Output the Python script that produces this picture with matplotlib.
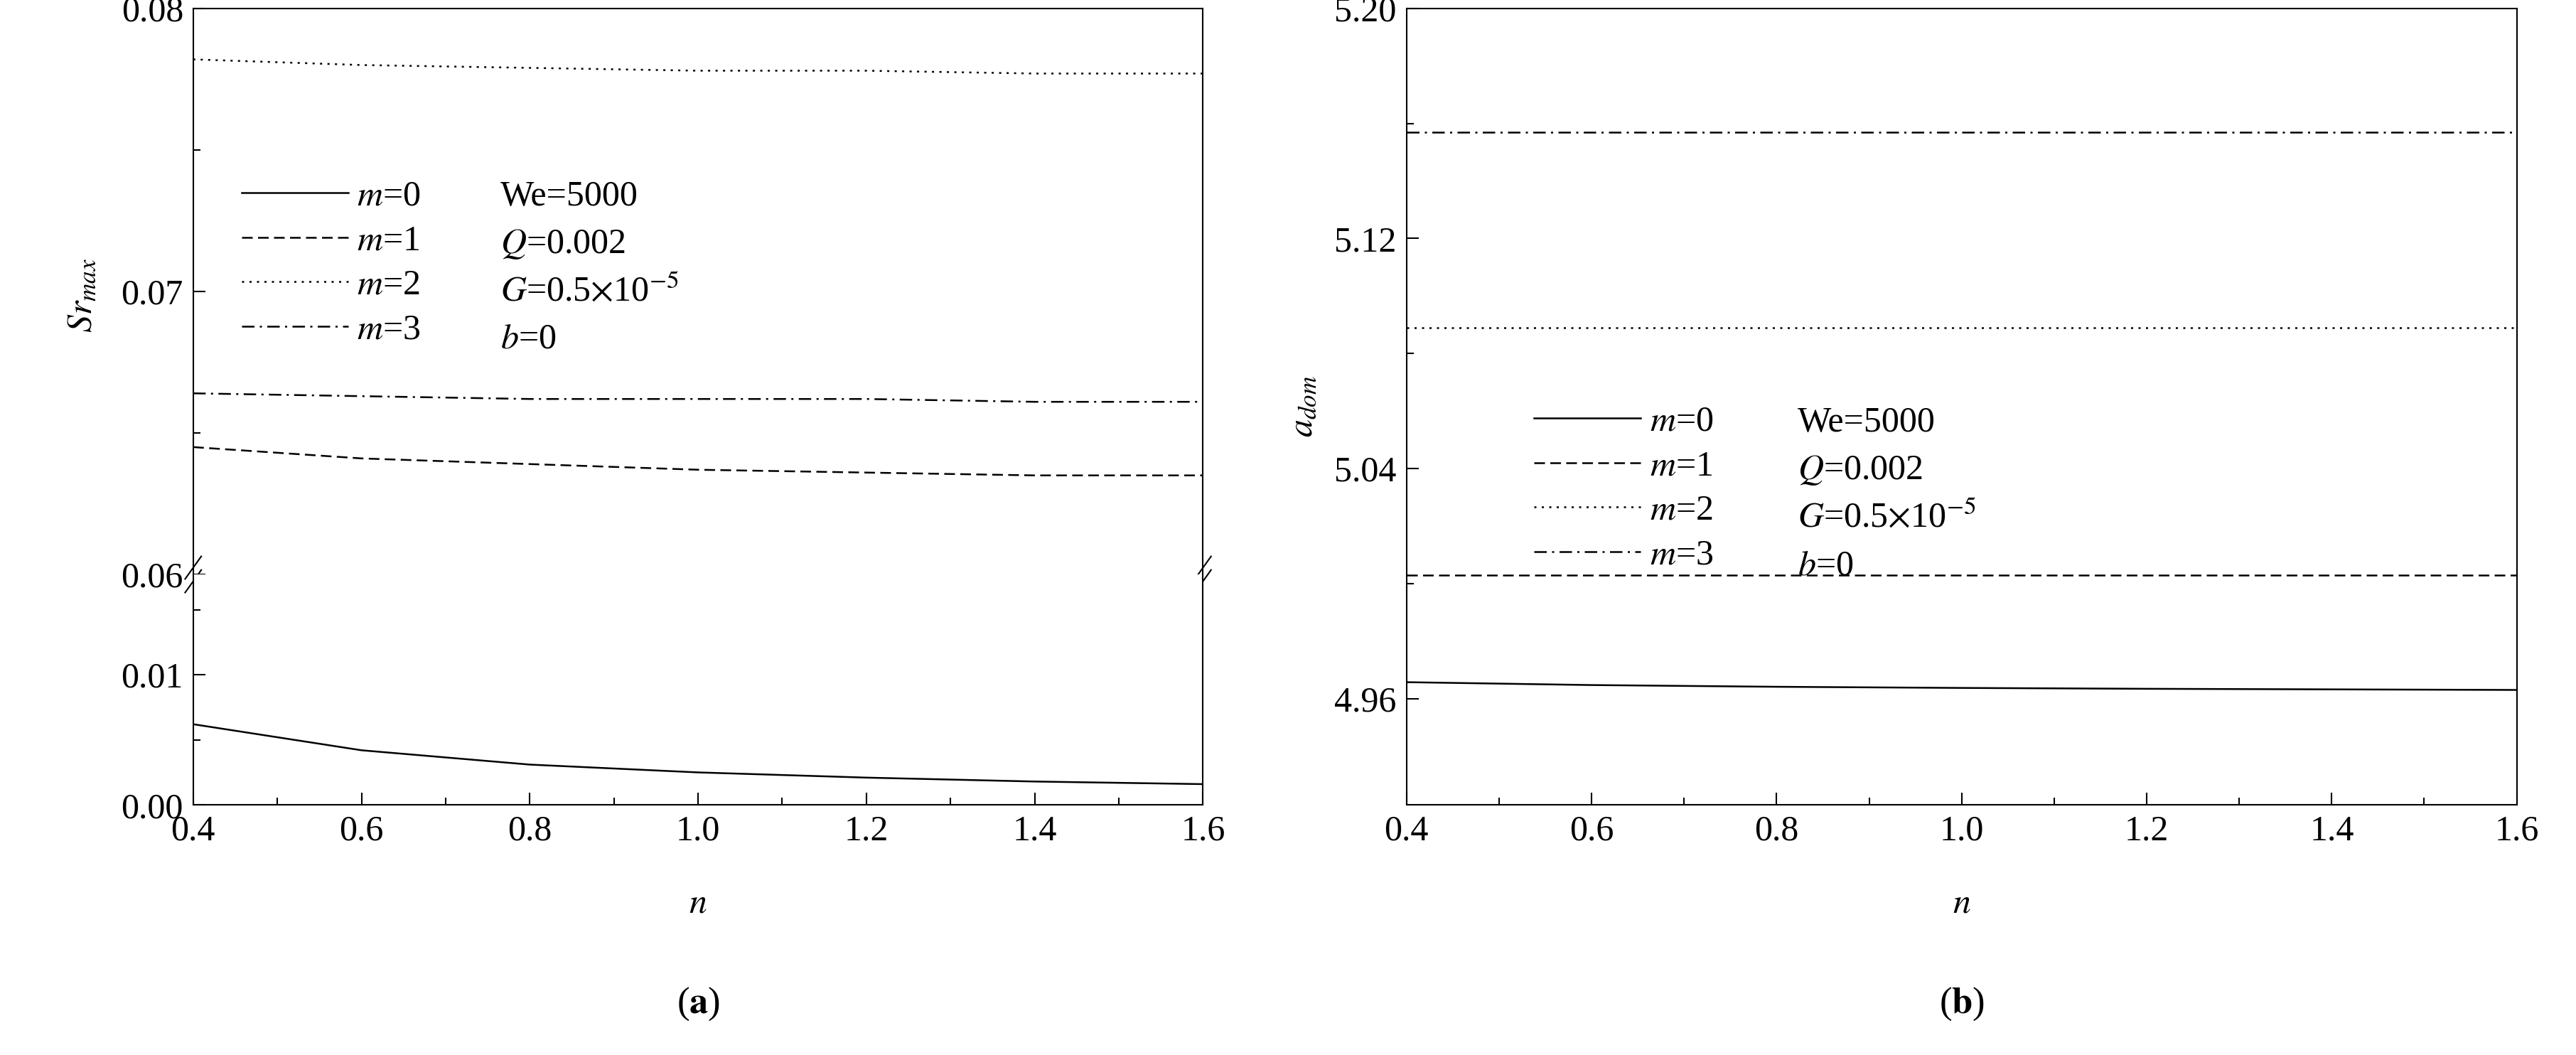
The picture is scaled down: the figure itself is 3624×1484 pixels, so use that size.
import matplotlib
matplotlib.use("Agg")
import matplotlib.pyplot as plt
from matplotlib.ticker import MultipleLocator, FormatStrFormatter

plt.rcParams['font.family'] = ['Liberation Serif', 'DejaVu Serif']
plt.rcParams['mathtext.fontset'] = 'stix'
FS = 36

n = [0.4, 0.6, 0.8, 1.0, 1.2, 1.4, 1.6]
sr_m0 = [0.0062, 0.0042, 0.0031, 0.0025, 0.0021, 0.0018, 0.0016]
sr_m1 = [0.0645, 0.0641, 0.0639, 0.0637, 0.0636, 0.0635, 0.0635]
sr_m2 = [0.0782, 0.0780, 0.0779, 0.0778, 0.0778, 0.0777, 0.0777]
sr_m3 = [0.0664, 0.0663, 0.0662, 0.0662, 0.0662, 0.0661, 0.0661]
a_m0 = [4.9657, 4.9647, 4.9641, 4.9637, 4.9634, 4.9632, 4.9630]
a_m1 = [5.003, 5.003, 5.003, 5.003, 5.003, 5.003, 5.003]
a_m2 = [5.089, 5.089, 5.089, 5.089, 5.089, 5.089, 5.089]
a_m3 = [5.157, 5.157, 5.157, 5.157, 5.157, 5.157, 5.157]
labels = ['$m$=0', '$m$=1', '$m$=2', '$m$=3']
params = ['We=5000', '$Q$=0.002', r'$G$=0.5$\times$10$^{-5}$', '$b$=0']
styles = ['-', (0, (6, 3)), (0, (1.2, 3)), (0, (7, 3, 1.2, 3))]
LW = 1.8

fig = plt.figure(figsize=(36.24, 14.84), dpi=100)
L, R = 0.075, 0.467
axU = fig.add_axes([L, 0.4555, R - L, 0.992 - 0.4555])
axD = fig.add_axes([L, 0.237, R - L, 0.4555 - 0.237])
axB = fig.add_axes([0.546, 0.237, 0.977 - 0.546, 0.992 - 0.237])

def style(ax):
    for sp in ax.spines.values():
        sp.set_linewidth(1.5)
    ax.tick_params(which='both', direction='in', top=False, right=False, labelsize=FS, width=1.5)
    ax.tick_params(which='major', length=12, pad=10)
    ax.tick_params(which='minor', length=7)
    ax.set_xlim(0.4, 1.6)
    ax.xaxis.set_major_locator(MultipleLocator(0.2))
    ax.xaxis.set_minor_locator(MultipleLocator(0.1))
    ax.xaxis.set_major_formatter(FormatStrFormatter('%.1f'))

for ax in (axU, axD, axB):
    style(ax)

sets_l = [sr_m0, sr_m1, sr_m2, sr_m3]
for d, ls, lb in zip(sets_l, styles, labels):
    axU.plot(n, d, color='black', ls=ls, lw=LW, label=lb)
    axD.plot(n, d, color='black', ls=ls, lw=LW)
axU.set_ylim(0.06, 0.08)
axU.yaxis.set_major_locator(MultipleLocator(0.01))
axU.yaxis.set_minor_locator(MultipleLocator(0.005))
axU.yaxis.set_major_formatter(FormatStrFormatter('%.2f'))
axU.tick_params(axis='x', which='both', bottom=False, labelbottom=False)
axU.spines['bottom'].set_visible(False)
axD.spines['top'].set_visible(False)
axD.set_ylim(0, 0.0177)
axD.yaxis.set_major_locator(MultipleLocator(0.01))
axD.yaxis.set_minor_locator(MultipleLocator(0.005))
axD.yaxis.set_major_formatter(FormatStrFormatter('%.2f'))
axD.set_xlabel('$n$', fontsize=FS, labelpad=40)
fig.text(0.032, 0.72, '$Sr_{max}$', fontsize=FS, rotation=90, va='center', ha='center')

# break marks
for xx in (0, 1):
    for dy in (-0.012, 0.012):
        axU.plot([xx - 0.008, xx + 0.008], [dy - 0.02, dy + 0.02], transform=axU.transAxes,
                 color='black', lw=1.5, clip_on=False)

def legend(ax, x0, ytop, xcol2, step):
    ax.legend(loc='upper left', bbox_to_anchor=(x0 - 0.012, ytop + 0.04 * step / 0.084 * 0.75),
              frameon=False, fontsize=FS, handlelength=3.0, handletextpad=0.25,
              labelspacing=0.32, borderaxespad=0, borderpad=0)
    for i, p in enumerate(params):
        ax.text(xcol2, ytop - i * step, p, transform=ax.transAxes, fontsize=FS, va='center')

legend(axU, 0.06, 0.667, 0.304, 0.084)

sets_r = [a_m0, a_m1, a_m2, a_m3]
for d, ls, lb in zip(sets_r, styles, labels):
    axB.plot(n, d, color='black', ls=ls, lw=LW, label=lb)
axB.set_ylim(4.923, 5.20)
axB.set_yticks([4.96, 5.04, 5.12, 5.20])
axB.yaxis.set_major_formatter(FormatStrFormatter('%.2f'))
axB.yaxis.set_minor_locator(MultipleLocator(0.04))
axB.set_xlabel('$n$', fontsize=FS, labelpad=40)
axB.set_ylabel('$a_{dom}$', fontsize=FS, labelpad=15)
legend(axB, 0.127, 0.48, 0.352, 0.06)

fig.text((L + R) / 2, 0.04, r'($\mathbf{a}$)', fontsize=FS + 2, ha='center')
fig.text((0.546 + 0.977) / 2, 0.04, r'($\mathbf{b}$)', fontsize=FS + 2, ha='center')

fig.savefig('out.png', dpi=100)
